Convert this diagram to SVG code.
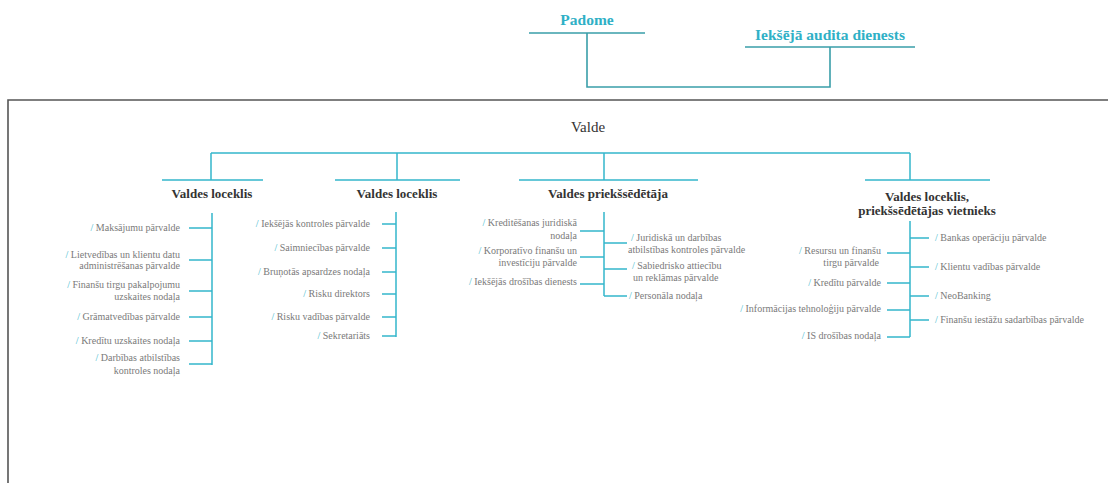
<svg xmlns="http://www.w3.org/2000/svg" width="1108" height="483" viewBox="0 0 1108 483">
<style>
.frame{fill:none;stroke:#555;stroke-width:1.6}
.top{fill:none;stroke:#3a9ea9;stroke-width:1.6}
.ln{fill:none;stroke:#35b6cc;stroke-width:1.5}
.tt{font-family:"Liberation Serif","DejaVu Serif",serif;font-weight:bold;font-size:15.5px;fill:#2fb0c6}
.hd{font-family:"Liberation Serif","DejaVu Serif",serif;font-weight:bold;font-size:13px;fill:#333;text-anchor:middle}
.vd{font-family:"Liberation Serif","DejaVu Serif",serif;font-size:15px;fill:#333;text-anchor:middle}
.it{font-family:"Liberation Serif","DejaVu Serif",serif;font-size:10px;fill:#7a7a7a}
.r{text-anchor:end}
.s{fill:#35b6cc}
</style>
<rect width="1108" height="483" fill="#fff"/>
<path class="frame" d="M8,483 V100 H1108"/>
<g id="connectors">
<path class="top" d="M529,33 H645 M745,47 H915 M587,33 V87 H830 V47"/>
<path class="ln" d="M211,153 H910 M211,153 V180 M397,153 V180 M604,153 V180 M910,153 V180"/>
<path class="ln" d="M162,180 H263 M335,180 H460 M519,180 H698 M865,180 H990"/>
<path class="ln" d="M212,213 V365 M189,228 H212 M189,260 H212 M189,291 H212 M189,317 H212 M189,341 H212 M189,364 H212"/>
<path class="ln" d="M396,212 V337 M382,224 H396 M382,248 H396 M382,272 H396 M382,294 H396 M382,317 H396 M382,336 H396"/>
<path class="ln" d="M604,212 V296 M580,231 H604 M580,257 H604 M580,284 H604 M604,243 H627 M604,269 H627 M604,296 H627"/>
<path class="ln" d="M910,221 V337 M910,238 H929 M910,267 H929 M910,296 H929 M910,320 H929 M887,253 H910 M887,283 H910 M887,310 H910 M887,337 H910"/>
</g>
<g id="padome"><text class="tt" x="587" y="25" text-anchor="middle">Padome</text></g>
<g id="audits"><text class="tt" x="830" y="40" text-anchor="middle">Iekšējā audita dienests</text></g>
<g id="valde"><text class="vd" x="588" y="132">Valde</text></g>
<g id="col1">
<text class="hd" x="212" y="198">Valdes loceklis</text>
<text class="it r" x="180" y="231"><tspan class="s">/ </tspan>Maksājumu pārvalde</text>
<text class="it r" x="180" y="258"><tspan class="s">/ </tspan>Lietvedības un klientu datu</text>
<text class="it r" x="180" y="269">administrēšanas pārvalde</text>
<text class="it r" x="180" y="288"><tspan class="s">/ </tspan>Finanšu tirgu pakalpojumu</text>
<text class="it r" x="180" y="300">uzskaites nodaļa</text>
<text class="it r" x="180" y="320"><tspan class="s">/ </tspan>Grāmatvedības pārvalde</text>
<text class="it r" x="180" y="344"><tspan class="s">/ </tspan>Kredītu uzskaites nodaļa</text>
<text class="it r" x="180" y="361"><tspan class="s">/ </tspan>Darbības atbilstības</text>
<text class="it r" x="180" y="374">kontroles nodaļa</text>
</g>
<g id="col2">
<text class="hd" x="397" y="198">Valdes loceklis</text>
<text class="it r" x="370" y="227"><tspan class="s">/ </tspan>Iekšējās kontroles pārvalde</text>
<text class="it r" x="370" y="251"><tspan class="s">/ </tspan>Saimniecības pārvalde</text>
<text class="it r" x="370" y="275"><tspan class="s">/ </tspan>Bruņotās apsardzes nodaļa</text>
<text class="it r" x="370" y="297"><tspan class="s">/ </tspan>Risku direktors</text>
<text class="it r" x="370" y="320"><tspan class="s">/ </tspan>Risku vadības pārvalde</text>
<text class="it r" x="370" y="339"><tspan class="s">/ </tspan>Sekretariāts</text>
</g>
<g id="col3">
<text class="hd" x="608" y="198">Valdes priekšsēdētāja</text>
<text class="it r" x="577" y="226"><tspan class="s">/ </tspan>Kreditēšanas juridiskā</text>
<text class="it r" x="577" y="239">nodaļa</text>
<text class="it r" x="577" y="254"><tspan class="s">/ </tspan>Korporatīvo finanšu un</text>
<text class="it r" x="577" y="266">investīciju pārvalde</text>
<text class="it r" x="577" y="285"><tspan class="s">/ </tspan>Iekšējās drošības dienests</text>
<text class="it" x="631" y="241"><tspan class="s">/ </tspan>Juridiskā un darbības</text>
<text class="it" x="628" y="253">atbilstības kontroles pārvalde</text>
<text class="it" x="632" y="269"><tspan class="s">/ </tspan>Sabiedrisko attiecību</text>
<text class="it" x="633" y="281">un reklāmas pārvalde</text>
<text class="it" x="629" y="299"><tspan class="s">/ </tspan>Personāla nodaļa</text>
</g>
<g id="col4">
<text class="hd" x="927" y="201">Valdes loceklis,</text>
<text class="hd" x="927" y="215">priekšsēdētājas vietnieks</text>
<text class="it" x="935" y="241"><tspan class="s">/ </tspan>Bankas operāciju pārvalde</text>
<text class="it" x="935" y="270"><tspan class="s">/ </tspan>Klientu vadības pārvalde</text>
<text class="it" x="935" y="299"><tspan class="s">/ </tspan>NeoBanking</text>
<text class="it" x="935" y="323"><tspan class="s">/ </tspan>Finanšu iestāžu sadarbības pārvalde</text>
<text class="it r" x="881" y="254"><tspan class="s">/ </tspan>Resursu un finanšu</text>
<text class="it r" x="879" y="266">tirgu pārvalde</text>
<text class="it r" x="881" y="286"><tspan class="s">/ </tspan>Kredītu pārvalde</text>
<text class="it r" x="881" y="312"><tspan class="s">/ </tspan>Informācijas tehnoloģiju pārvalde</text>
<text class="it r" x="881" y="339"><tspan class="s">/ </tspan>IS drošības nodaļa</text>
</g>
</svg>
